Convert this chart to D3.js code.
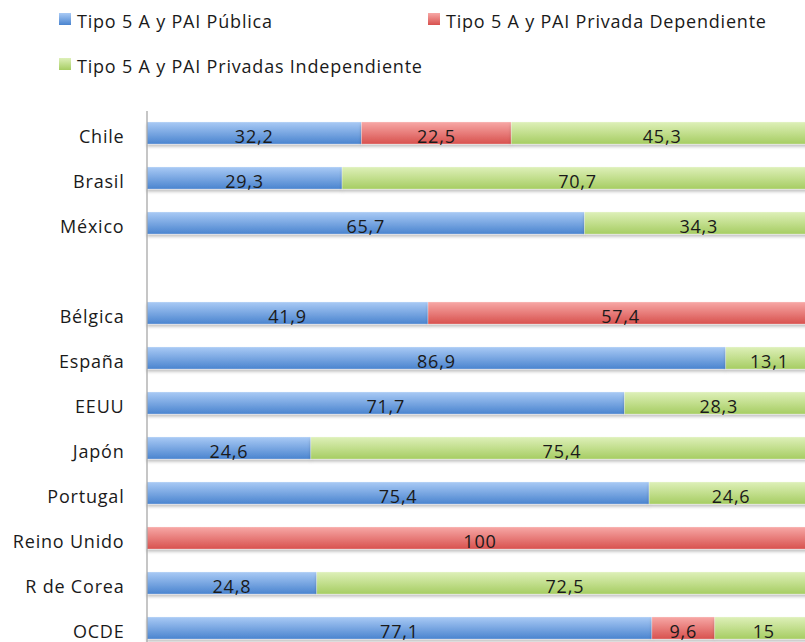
<!DOCTYPE html>
<html>
<head>
<meta charset="utf-8">
<script src="https://cdn.jsdelivr.net/npm/d3@7"></script>
<style>
  body { margin: 0; background: #fff; }
  svg { display: block; font-family: "Open Sans", sans-serif; }
</style>
</head>
<body>
<svg id="drawing_region"></svg>
<script>
// categories (the empty string is the gap row between the regional and OCDE groups)
const countries = ["Chile", "Brasil", "México", "", "Bélgica", "España", "EEUU", "Japón", "Portugal", "Reino Unido", "R de Corea", "OCDE"];
const series_names = ["Tipo 5 A y PAI Pública", "Tipo 5 A y PAI Privada Dependiente", "Tipo 5 A y PAI Privadas Independiente"];
const publica       = [32.2, 29.3, 65.7, 0, 41.9, 86.9, 71.7, 24.6, 75.4, 0,   24.8, 77.1];
const dependiente   = [22.5, 0,    0,    0, 57.4, 0,    0,    0,    0,    100, 0,    9.6];
const independiente = [45.3, 70.7, 34.3, 0, 0,    13.1, 28.3, 75.4, 24.6, 0,   72.5, 15];

const keys = ["pub", "dep", "ind"];
const data = countries.map((c, i) => ({
    country: c,
    pub: publica[i],
    dep: dependiente[i],
    ind: independiente[i]
}));

var config = {
    parent: '#drawing_region',
    width: 805,
    height: 642,
    margin: {top:110.5, left:147}
};

const colors = {
    pub: ["#a9caf5", "#4a84cf"],
    dep: ["#f7a8a6", "#d8514e"],
    ind: ["#def0b9", "#a6cd62"]
};

const svg = d3.select(config.parent)
    .attr('width', config.width)
    .attr('height', config.height);

// gradients + shadow
const defs = svg.append('defs');
keys.forEach(k => {
    const g = defs.append('linearGradient')
        .attr('id', 'grad_' + k)
        .attr('x1', 0).attr('y1', 0).attr('x2', 0).attr('y2', 1);
    g.append('stop').attr('offset', '0%').attr('stop-color', colors[k][0]);
    g.append('stop').attr('offset', '100%').attr('stop-color', colors[k][1]);
});
const shadow = defs.append('filter').attr('id', 'shadow')
    .attr('x', '-5%').attr('y', '-20%').attr('width', '110%').attr('height', '160%');
shadow.append('feDropShadow')
    .attr('dx', 0).attr('dy', 2.5).attr('stdDeviation', 1.5)
    .attr('flood-color', '#000').attr('flood-opacity', 0.25);

// scales
const xscale = d3.scaleLinear()
    .domain([0, 1])
    .range([config.margin.left, config.margin.left + 666]);

const yscale = d3.scaleBand()
    .domain(d3.range(countries.length))
    .range([config.margin.top, config.margin.top + 45 * countries.length])
    .paddingInner(0.51)
    .paddingOuter(0.255);

// 100% stacked
const stacked = d3.stack()
    .keys(keys)
    .offset(d3.stackOffsetExpand)(data);

const fmt = v => String(v).replace('.', ',');

const layers = svg.append('g')
    .selectAll('g')
    .data(stacked)
    .join('g')
    .attr('fill', d => `url(#grad_${d.key})`);

layers.selectAll('rect')
    .data(d => d.map((s, i) => ({s: s, i: i, key: d.key})).filter(e => e.s.data[e.key] > 0))
    .join('rect')
    .attr('x', e => xscale(e.s[0]))
    .attr('y', e => yscale(e.i))
    .attr('width', e => xscale(e.s[1]) - xscale(e.s[0]))
    .attr('height', yscale.bandwidth())
    .attr('filter', 'url(#shadow)')
    .attr('stroke', 'rgba(255,255,255,0.35)')
    .attr('stroke-width', 0.8);

layers.selectAll('text')
    .data(d => d.map((s, i) => ({s: s, i: i, key: d.key})).filter(e => e.s.data[e.key] > 0))
    .join('text')
    .attr('x', e => (xscale(e.s[0]) + xscale(e.s[1])) / 2)
    .attr('y', e => yscale(e.i) + yscale.bandwidth() / 2 + 10)
    .attr('text-anchor', 'middle')
    .attr('fill', '#1a1a1a')
    .style('font-size', '18px')
    .style('letter-spacing', '0.8px')
    .text(e => fmt(e.s.data[e.key]));

// y axis
const yaxis = d3.axisLeft(yscale)
    .tickSize(0)
    .tickPadding(22)
    .tickFormat(i => countries[i]);

const yaxis_group = svg.append('g')
    .attr('transform', `translate(${config.margin.left - 0.5}, 0)`)
    .call(yaxis);

yaxis_group.select('.domain')
    .attr('stroke', '#a0a0a0')
    .attr('stroke-width', 1.2);

yaxis_group.selectAll('text')
    .attr('dy', 10)
    .attr('fill', '#1a1a1a')
    .style('font-family', '"Open Sans", sans-serif')
    .style('font-size', '18px')
    .style('letter-spacing', '0.8px');

// legend
const legend_pos = [[59, 13], [428, 13], [59, 58]];
const legend = svg.append('g')
    .selectAll('g')
    .data(keys)
    .join('g')
    .attr('transform', (k, i) => `translate(${legend_pos[i][0]}, ${legend_pos[i][1]})`);

legend.append('rect')
    .attr('width', 12)
    .attr('height', 12)
    .attr('fill', k => `url(#grad_${k})`);

legend.append('text')
    .attr('x', 18)
    .attr('y', 15)
    .attr('fill', '#1a1a1a')
    .style('font-size', '18px')
    .style('letter-spacing', '0.8px')
    .text((k, i) => series_names[i]);
</script>
</body>
</html>
